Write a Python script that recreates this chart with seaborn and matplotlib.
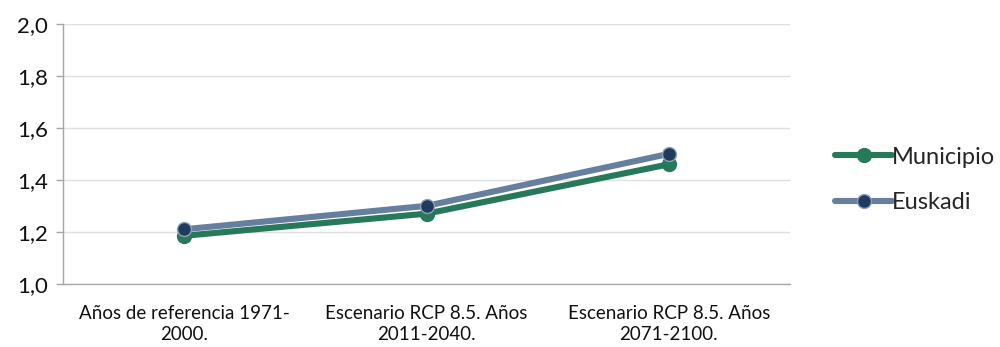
import matplotlib
matplotlib.use("Agg")
import matplotlib.pyplot as plt
from matplotlib.lines import Line2D
import pandas as pd
import seaborn as sns

categories = ["Años de referencia 1971-\n2000.",
              "Escenario RCP 8.5. Años\n2011-2040.",
              "Escenario RCP 8.5. Años\n2071-2100."]
municipio = [1.185, 1.27, 1.46]
euskadi = [1.21, 1.30, 1.50]
series_names = ["Municipio", "Euskadi"]
y_ticks = [1.0, 1.2, 1.4, 1.6, 1.8, 2.0]
y_labels = ["1,0", "1,2", "1,4", "1,6", "1,8", "2,0"]

line_colors = {"Municipio": "#267A5A", "Euskadi": "#667F9F"}
marker_faces = {"Municipio": "#267A5A", "Euskadi": "#1F3B5E"}
marker_edges = {"Municipio": "#267A5A", "Euskadi": "#8EA0B8"}

df = pd.DataFrame({
    "pos": list(range(len(categories))) * 2,
    "valor": municipio + euskadi,
    "serie": [series_names[0]] * 3 + [series_names[1]] * 3,
})

sns.set_theme(style="white")
plt.rcParams["font.family"] = ["Lato", "DejaVu Sans"]

fig = plt.figure(figsize=(10, 3.47), dpi=100)
ax = fig.add_axes([0.063, 0.182, 0.727, 0.749])

for name in series_names:
    sub = df[df["serie"] == name]
    sns.lineplot(data=sub, x="pos", y="valor", ax=ax, color=line_colors[name],
                 linewidth=4.4, marker="o", markersize=10,
                 markerfacecolor=marker_faces[name],
                 markeredgecolor=marker_edges[name],
                 markeredgewidth=1.0, sort=False, legend=False)

ax.set_xlim(-0.5, 2.5)
ax.set_ylim(1.0, 2.0)
ax.set_yticks(y_ticks)
ax.set_yticklabels(y_labels, fontsize=16, color="#111111")
ax.set_xticks(range(len(categories)))
ax.set_xticklabels(categories, fontsize=13.5, color="#111111", linespacing=1.3)
ax.set_xticks([-0.5, 0.5, 1.5, 2.5], minor=True)
ax.tick_params(axis="x", which="major", length=0, pad=15)
ax.tick_params(axis="x", which="minor", length=5, color="#A6A6A6", width=1)
ax.tick_params(axis="y", which="major", length=5, color="#A6A6A6", width=1, pad=6, left=True)
ax.set_xlabel("")
ax.set_ylabel("")

ax.yaxis.grid(True, color="#E0E0E0", linewidth=1)
ax.set_axisbelow(True)
for side in ["top", "right"]:
    ax.spines[side].set_visible(False)
for side in ["left", "bottom"]:
    ax.spines[side].set_color("#A6A6A6")
    ax.spines[side].set_linewidth(1)

handles = [Line2D([0], [0], color=line_colors[n], linewidth=4.4, marker="o",
                  markersize=10, markerfacecolor=marker_faces[n],
                  markeredgecolor=marker_edges[n])
           for n in series_names]
fig.legend(handles, series_names, loc="center left", bbox_to_anchor=(0.814, 0.481),
           frameon=False, fontsize=17, handlelength=2.4, handletextpad=0.0,
           labelspacing=1.05)

fig.savefig("out.png", dpi=100, facecolor="white")
